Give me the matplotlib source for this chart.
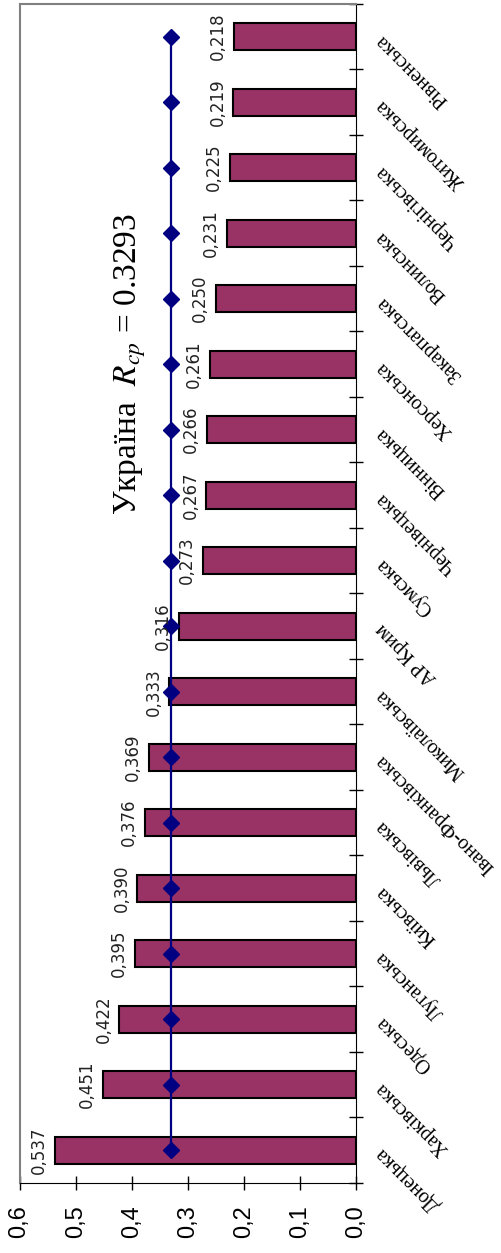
import matplotlib
matplotlib.use("Agg")
import matplotlib.pyplot as plt
import numpy as np

regions = ["Донецька", "Харківська", "Одеська", "Луганська", "Київська", "Львівська",
           "Івано-Франківська", "Миколаївська", "АР Крим", "Сумська", "Чернівецька",
           "Вінницька", "Херсонська", "Закарпатська", "Волинська", "Чернігівська",
           "Житомирська", "Рівненська"]
values = [0.537, 0.451, 0.422, 0.395, 0.390, 0.376, 0.369, 0.333, 0.316, 0.273,
          0.267, 0.266, 0.261, 0.250, 0.231, 0.225, 0.219, 0.218]
r_avg = 0.3293
x_ticks = [0.6, 0.5, 0.4, 0.3, 0.2, 0.1, 0.0]

plt.rcParams['mathtext.fontset'] = 'stix'

fig = plt.figure(figsize=(5.01, 12.53), dpi=100)
ax = fig.add_axes([0.039, 0.0559, 0.672, 0.941])

pos = np.arange(len(regions))
ax.barh(pos, values, height=0.41, color='#993366', edgecolor='black', linewidth=1.5, zorder=2)
ax.plot([r_avg] * len(regions), pos, color='#000080', lw=1.6, marker='D', markersize=8, zorder=3)

for p, v in zip(pos, values):
    ax.annotate(f"{v:.3f}".replace('.', ','), (v, p), xytext=(-5, 0), textcoords='offset points',
                rotation=90, ha='right', va='center', fontsize=12, family='DejaVu Sans', color='#222222')

for p, name in zip(pos, regions):
    ax.text(1.068, p, name, transform=ax.get_yaxis_transform(), rotation=135,
            rotation_mode='anchor', ha='right', va='center', fontsize=14.5,
            family='Liberation Serif', clip_on=False)

ax.text(0.402, 12, 'Україна  $R_{cp}$ = 0.3293', rotation=90, ha='center', va='center',
        fontsize=24, family='Liberation Serif')

ax.set_xlim(0.6, 0.0)
ax.set_ylim(-0.5, len(regions) - 0.5)
ax.set_xticks(x_ticks)
ax.set_xticklabels([f"{t:.1f}".replace('.', ',') for t in x_ticks], rotation=90,
                   fontsize=17, family='Liberation Sans')
ax.set_yticks(np.arange(-0.5, len(regions), 1.0))
ax.set_yticklabels([])
ax.tick_params(axis='x', direction='inout', length=10, width=1, pad=11)
ax.tick_params(axis='y', direction='inout', length=10, width=1, left=False, right=True,
               labelleft=False, labelright=False)

for s in ['left', 'top']:
    ax.spines[s].set_color('#808080')
    ax.spines[s].set_linewidth(1.5)
ax.spines['right'].set_color('black')
ax.spines['bottom'].set_color('black')

fig.savefig("out.png", dpi=100)
